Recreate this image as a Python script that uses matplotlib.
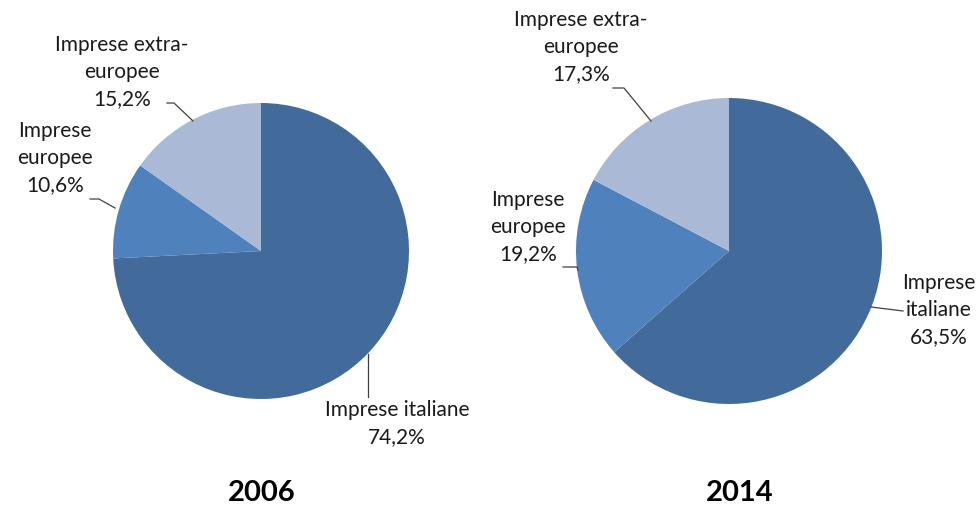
import matplotlib.pyplot as plt

plt.rcParams['font.family'] = ['Lato', 'DejaVu Sans']

# data
categories = ['Imprese italiane', 'Imprese europee', 'Imprese extra-europee']
share_2006 = [74.2, 10.6, 15.2]
share_2014 = [63.5, 19.2, 17.3]
years = ['2006', '2014']
colors = ['#426A9A', '#4F81BD', '#AAB9D6']

W, H = 979, 508
fig = plt.figure(figsize=(W / 100, H / 100), dpi=100)
ax = fig.add_axes([0, 0, 1, 1])


def pie(values, cx, cy, r):
    # y axis gets inverted below, so counterclock=True reads clockwise on screen
    ax.pie(values, colors=colors, startangle=-90, counterclock=True,
           center=(cx, cy), radius=r, frame=True,
           wedgeprops=dict(linewidth=0))


def fmt(v):
    return f'{v:.1f}%'.replace('.', ',')


def label(text, x, y, line):
    ax.text(x, y, text, ha='center', va='top', fontsize=15,
            color='#1a1a1a', linespacing=1.43)
    xs, ys = zip(*line)
    ax.plot(xs, ys, color='#404040', linewidth=0.9)


pie(share_2006, 261, 251, 148)
pie(share_2014, 729, 251, 153)
ax.set_xlim(0, W)
ax.set_ylim(H, 0)
ax.set_aspect('equal')
ax.axis('off')

# 2006 labels
label(f'Imprese extra-\neuropee\n{fmt(share_2006[2])}', 122, 35,
      [(167, 103), (174, 103), (193, 121)])
label(f'Imprese\neuropee\n{fmt(share_2006[1])}', 55, 121,
      [(90, 199), (99, 199), (115, 208)])
label(f'Imprese italiane\n{fmt(share_2006[0])}', 397, 400,
      [(368, 354), (368, 397)])

# 2014 labels
label(f'Imprese extra-\neuropee\n{fmt(share_2014[2])}', 581, 10,
      [(613, 88), (624, 88), (651, 121)])
label(f'Imprese\neuropee\n{fmt(share_2014[1])}', 528, 190,
      [(563, 267), (577, 267), (578, 270)])
label(f'Imprese\nitaliane\n{fmt(share_2014[0])}', 939, 273,
      [(871, 307), (903, 311)])

ax.text(262, 493, years[0], ha='center', va='center', fontsize=21,
        fontweight='bold', color='black')
ax.text(740, 493, years[1], ha='center', va='center', fontsize=21,
        fontweight='bold', color='black')

fig.savefig('out.png', dpi=100)
